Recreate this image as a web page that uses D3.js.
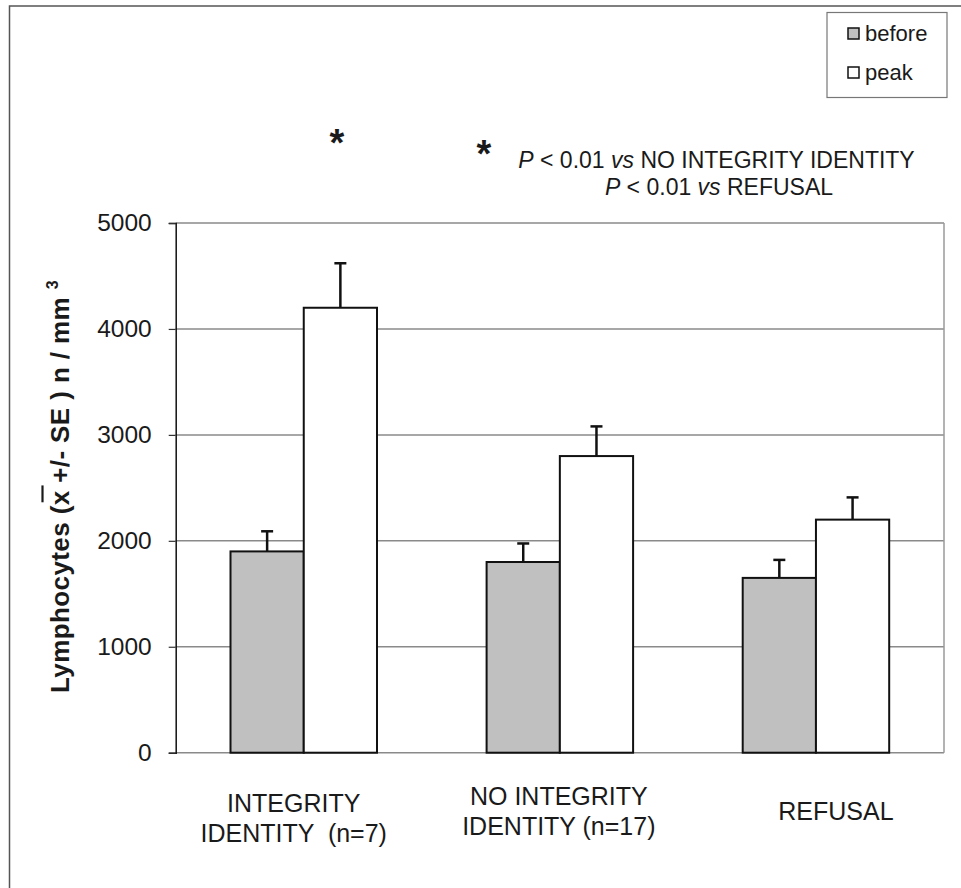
<!DOCTYPE html>
<html>
<head>
<meta charset="utf-8">
<script src="https://cdn.jsdelivr.net/npm/d3@7"></script>
<style>
  body { margin: 0; background: #fff; }
  text { font-family: "Liberation Sans", Arial, sans-serif; fill: #1a1a1a; }
</style>
</head>
<body>
<svg width="961" height="888"></svg>
<script>
// data
const groups = ['INTEGRITY IDENTITY (n=7)', 'NO INTEGRITY IDENTITY (n=17)', 'REFUSAL'];
const groupLines = [['INTEGRITY', 'IDENTITY  (n=7)'], ['NO INTEGRITY', 'IDENTITY (n=17)'], ['REFUSAL']];
const series = ['before', 'peak'];
const beforeValues = [1900, 1800, 1650];
const peakValues = [4200, 2800, 2200];
const beforeSE = [190, 175, 170];
const peakSE = [420, 280, 210];
const yTicks = [0, 1000, 2000, 3000, 4000, 5000];

const colors = { before: '#c0c0c0', peak: '#ffffff' };

const svg = d3.select('svg');

// outer chart frame (only top/left edges show in the crop)
svg.append('rect')
    .attr('x', 9.5).attr('y', 6)
    .attr('width', 1000).attr('height', 1000)
    .attr('fill', 'none')
    .attr('stroke', '#555')
    .attr('stroke-width', 1.5);

const plotL = 175.7, plotR = 944, plotT = 223, plotB = 752.7;

let x = d3.scaleBand().domain(groups).range([plotL, plotR]);
let barW = x.bandwidth() * 0.286;
let yScale = d3.scaleLinear().domain([0, 5000]).range([plotB, plotT]);

// gridlines
svg.append('g')
    .selectAll('line')
    .data(yTicks)
    .enter()
    .append('line')
    .attr('x1', plotL).attr('x2', plotR)
    .attr('y1', d => yScale(d)).attr('y2', d => yScale(d))
    .attr('stroke', '#8a8a8a')
    .attr('stroke-width', 1.5);

// right border of plot area
svg.append('line')
    .attr('x1', plotR).attr('x2', plotR)
    .attr('y1', plotT).attr('y2', plotB)
    .attr('stroke', '#9a9a9a')
    .attr('stroke-width', 1.5);

let table = groups.map(function (g, i) {
    return [
        { group: g, key: 'before', value: beforeValues[i], se: beforeSE[i] },
        { group: g, key: 'peak', value: peakValues[i], se: peakSE[i] }
    ];
}).flat();

function barX(d) {
    let c = x(d.group) + x.bandwidth() / 2;
    return d.key === 'before' ? c - barW : c;
}

// error bars (drawn under the bars)
let err = svg.append('g');
err.selectAll('line.stem')
    .data(table)
    .enter()
    .append('line')
    .attr('x1', d => barX(d) + barW / 2)
    .attr('x2', d => barX(d) + barW / 2)
    .attr('y1', d => yScale(d.value))
    .attr('y2', d => yScale(d.value + d.se))
    .attr('stroke', '#111')
    .attr('stroke-width', 2.5);
err.selectAll('line.cap')
    .data(table)
    .enter()
    .append('line')
    .attr('x1', d => barX(d) + barW / 2 - 6)
    .attr('x2', d => barX(d) + barW / 2 + 6)
    .attr('y1', d => yScale(d.value + d.se))
    .attr('y2', d => yScale(d.value + d.se))
    .attr('stroke', '#111')
    .attr('stroke-width', 2.5);

svg.append('g')
    .selectAll('rect')
    .data(table)
    .enter()
    .append('rect')
    .attr('x', barX)
    .attr('y', d => yScale(d.value))
    .attr('width', barW)
    .attr('height', d => plotB - yScale(d.value))
    .style('fill', d => colors[d.key])
    .attr('stroke', '#111')
    .attr('stroke-width', 2);

// y axis
let yAxis = svg.append('g')
    .attr('transform', 'translate(' + plotL + ',0)')
    .call(d3.axisLeft(yScale).tickValues(yTicks).tickSize(7).tickPadding(17).tickFormat(d3.format('d')));
yAxis.select('.domain').attr('stroke', '#111').attr('stroke-width', 1.5);
yAxis.selectAll('.tick line').attr('stroke', '#333').attr('stroke-width', 1.2);
yAxis.selectAll('text')
    .style('font-family', '"Liberation Sans", Arial, sans-serif')
    .style('font-size', '24.5px')
    .attr('fill', '#222');

// category labels
const labelDx = [-10, -1, 20];
const labelY = [812, 805, 820];
groupLines.forEach(function (lines, i) {
    let t = svg.append('text')
        .attr('text-anchor', 'middle')
        .style('font-size', '25px');
    lines.forEach(function (s, j) {
        t.append('tspan')
            .attr('x', x(groups[i]) + x.bandwidth() / 2 + labelDx[i])
            .attr('y', labelY[i] + j * 29.5)
            .style('white-space', 'pre')
            .text(s);
    });
});

// y axis title
let yt = svg.append('text')
    .attr('transform', 'translate(68.5,486.5) rotate(-90)')
    .attr('text-anchor', 'middle')
    .style('font-size', '26px')
    .style('font-weight', 'bold')
    .style('letter-spacing', '0.4px')
    .style('white-space', 'pre');
yt.append('tspan').text('Lymphocytes (');
yt.append('tspan').text('x');
yt.append('tspan').text(' +/- SE ) n / mm ');
yt.append('tspan').attr('dy', -11).style('font-size', '16px').text('3');

// bar over the x
let node = yt.node();
let idx = 'Lymphocytes ('.length;
let p0 = node.getStartPositionOfChar(idx);
let p1 = node.getEndPositionOfChar(idx);
svg.append('line')
    .attr('transform', 'translate(68.5,486.5) rotate(-90)')
    .attr('x1', p0.x + 3).attr('x2', p1.x + 5)
    .attr('y1', p0.y - 26).attr('y2', p0.y - 26)
    .attr('stroke', '#1a1a1a')
    .attr('stroke-width', 2.2);

// significance marks
svg.append('text')
    .attr('x', 337).attr('y', 156)
    .attr('text-anchor', 'middle')
    .style('font-size', '38px')
    .style('font-weight', 'bold')
    .text('*');
svg.append('text')
    .attr('x', 484).attr('y', 167)
    .attr('text-anchor', 'middle')
    .style('font-size', '38px')
    .style('font-weight', 'bold')
    .text('*');

const noteLines = [['P', ' < 0.01 ', 'vs', ' NO INTEGRITY IDENTITY'], ['P', ' < 0.01 ', 'vs', ' REFUSAL']];
const noteX = [716.5, 719];
noteLines.forEach(function (parts, j) {
    let t = svg.append('text')
        .attr('x', noteX[j]).attr('y', 168 + j * 27)
        .attr('text-anchor', 'middle')
        .style('font-size', '23px')
        .style('white-space', 'pre');
    parts.forEach(function (s, k) {
        t.append('tspan')
            .style('font-style', k % 2 === 0 ? 'italic' : 'normal')
            .text(s);
    });
});

// legend
let legend = svg.append('g');
legend.append('rect')
    .attr('x', 827).attr('y', 12.5)
    .attr('width', 120).attr('height', 85)
    .attr('fill', '#fff')
    .attr('stroke', '#777')
    .attr('stroke-width', 1.2);
series.forEach(function (s, i) {
    legend.append('rect')
        .attr('x', 848).attr('y', 28 + i * 39)
        .attr('width', 11).attr('height', 11)
        .style('fill', colors[s])
        .attr('stroke', '#111')
        .attr('stroke-width', 1.5);
    legend.append('text')
        .attr('x', 865).attr('y', 41 + i * 39)
        .style('font-size', '22px')
        .text(s);
});
</script>
</body>
</html>
